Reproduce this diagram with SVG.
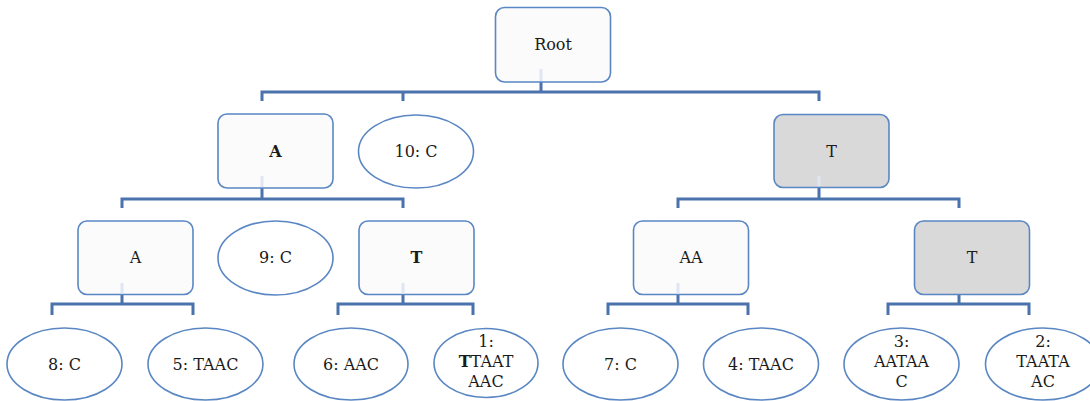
<svg xmlns="http://www.w3.org/2000/svg" width="1090" height="401" viewBox="0 0 1090 401">
<style>
.box{fill:#fbfbfb;stroke:#5a87c3;stroke-width:1.6}
.gray{fill:#d9d9d9;stroke:#5a87c3;stroke-width:1.6}
.ell{fill:#ffffff;stroke:#5a87c3;stroke-width:1.6}
.stub{stroke:#dfe5f1;stroke-width:3;fill:none}
.conn{stroke:#4a72ac;stroke-width:3;fill:none;stroke-linejoin:miter}
.t{font-family:'DejaVu Serif',serif;font-size:16px;fill:#1a1a1a;text-anchor:middle}
.b{font-weight:bold}
</style>
<rect width="1090" height="401" fill="#ffffff"/>
<g id="connectors">
<path class="conn" d="M541,82 V92 M262,101 V92 H819 V101 M403,92 V101"/>
<path class="conn" d="M262,188 V199 M122,208 V199 H403 V208"/>
<path class="conn" d="M819,187 V199 M678,208 V199 H959 V208"/>
<path class="conn" d="M122,294 V304 M52,315 V304 H193 V315"/>
<path class="conn" d="M403,294 V304 M338,315 V304 H473 V315"/>
<path class="conn" d="M678,294 V304 M608,315 V304 H748 V315"/>
<path class="conn" d="M959,294 V304 M888,315 V304 H1029 V315"/>
</g>
<g id="root"><rect class="box" x="495.5" y="7.5" width="115" height="74.5" rx="9"/><line class="stub" x1="541" y1="69" x2="541" y2="81"/><text class="t" x="553" y="50">Root</text></g>
<g id="nA"><rect class="box" x="218" y="114" width="115" height="74" rx="9"/><line class="stub" x1="262" y1="176" x2="262" y2="187"/><text class="t b" x="275.5" y="157">A</text></g>
<g id="n10"><ellipse class="ell" cx="416" cy="151.5" rx="57.5" ry="36.5"/><text class="t" x="416" y="157">10: C</text></g>
<g id="nT"><rect class="gray" x="774" y="114.5" width="115" height="73" rx="9"/><line class="stub" x1="819" y1="176" x2="819" y2="186"/><text class="t" x="831.5" y="157">T</text></g>
<g id="nAA1"><rect class="box" x="78" y="221" width="115" height="73.5" rx="9"/><line class="stub" x1="122" y1="283" x2="122" y2="293.5"/><text class="t" x="135.5" y="263">A</text></g>
<g id="n9"><ellipse class="ell" cx="275.5" cy="258" rx="57.5" ry="37"/><text class="t" x="275.5" y="263">9: C</text></g>
<g id="nAT"><rect class="box" x="359" y="221" width="115" height="73.5" rx="9"/><line class="stub" x1="403" y1="283" x2="403" y2="293.5"/><text class="t b" x="416.5" y="263">T</text></g>
<g id="nTAA"><rect class="box" x="633.5" y="221" width="115" height="73.5" rx="9"/><line class="stub" x1="678" y1="283" x2="678" y2="293.5"/><text class="t" x="691" y="263">AA</text></g>
<g id="nTT"><rect class="gray" x="914.5" y="221" width="115" height="73.5" rx="9"/><text class="t" x="972" y="263">T</text></g>
<g id="n8"><ellipse class="ell" cx="64.5" cy="364" rx="57.5" ry="36"/><text class="t" x="64.5" y="370">8: C</text></g>
<g id="n5"><ellipse class="ell" cx="205.5" cy="364" rx="57.5" ry="36"/><text class="t" x="205.5" y="370">5: TAAC</text></g>
<g id="n6"><ellipse class="ell" cx="351" cy="364" rx="57" ry="36"/><text class="t" x="351" y="370">6: AAC</text></g>
<g id="n1"><ellipse class="ell" cx="486" cy="363" rx="52" ry="34.5"/><text class="t" x="486" y="347">1:</text><text class="t" x="486" y="367"><tspan class="b">T</tspan>TAAT</text><text class="t" x="486" y="387">AAC</text></g>
<g id="n7"><ellipse class="ell" cx="620.5" cy="364" rx="57.5" ry="36"/><text class="t" x="620.5" y="370">7: C</text></g>
<g id="n4"><ellipse class="ell" cx="761" cy="364" rx="57.5" ry="36"/><text class="t" x="761" y="370">4: TAAC</text></g>
<g id="n3"><ellipse class="ell" cx="901.5" cy="364" rx="57.5" ry="36"/><text class="t" x="901.5" y="347">3:</text><text class="t" x="901.5" y="367">AATAA</text><text class="t" x="901.5" y="387">C</text></g>
<g id="n2"><ellipse class="ell" cx="1043" cy="364" rx="57.5" ry="36"/><text class="t" x="1043" y="347">2:</text><text class="t" x="1043" y="367">TAATA</text><text class="t" x="1043" y="387">AC</text></g>
</svg>
